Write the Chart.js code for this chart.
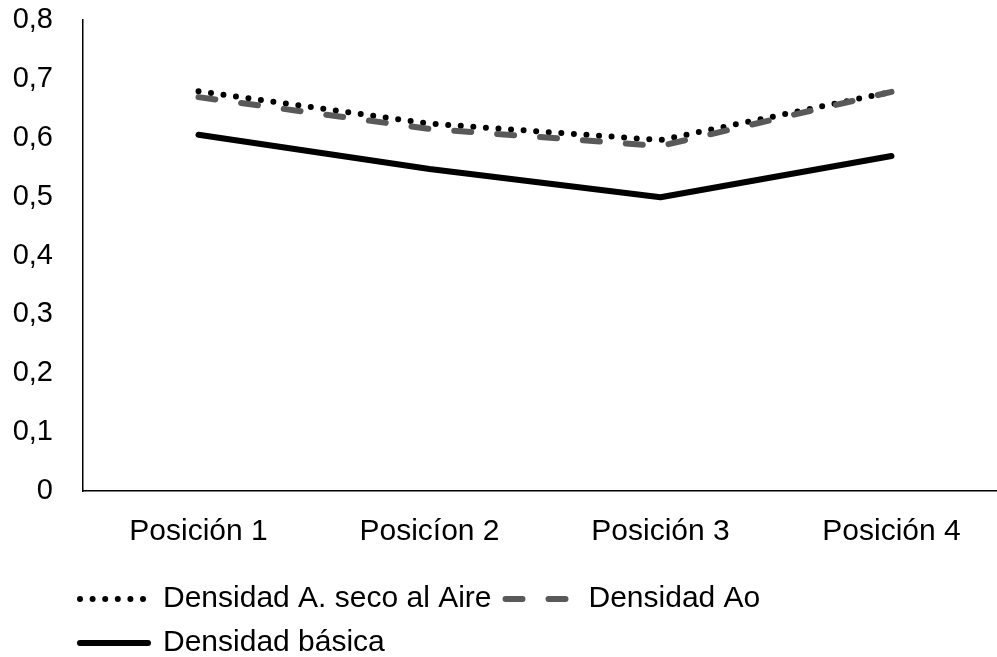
<!DOCTYPE html>
<html>
<head>
<meta charset="utf-8">
<script src="https://cdn.jsdelivr.net/npm/chart.js@4/dist/chart.umd.min.js"></script>
<style>
  html, body { margin: 0; padding: 0; background: #fff; overflow: hidden; }
  #wrap { position: relative; width: 1010px; height: 657px; }
</style>
</head>
<body>
<div id="wrap"><canvas id="c"></canvas></div>
<script>
// Wood density by position along the stem
const categories = ['Posición 1', 'Posicíon 2', 'Posición 3', 'Posición 4'];
const densidadSecoAire = [0.679, 0.624, 0.596, 0.678];
const densidadAo = [0.669, 0.615, 0.586, 0.678];
const densidadBasica = [0.605, 0.547, 0.499, 0.569];
const yTicks = [0, 0.1, 0.2, 0.3, 0.4, 0.5, 0.6, 0.7, 0.8];

const FONT = "'Liberation Sans', Arial, sans-serif";
const fmt = v => (v === 0 ? '0' : v.toFixed(1).replace('.', ','));

// legend starts further right than the y-axis labels
const legendIndent = {
  id: 'legendIndent',
  afterLayout(chart) {
    if (chart.legend) chart.legend.left += 53;
  }
};

new Chart(document.getElementById('c'), {
  type: 'line',
  data: {
    labels: categories,
    datasets: [
      {
        label: 'Densidad A. seco al Aire',
        data: densidadSecoAire,
        borderColor: '#000000',
        backgroundColor: '#000000',
        borderWidth: 6,
        borderDash: [0, 12.6],
        borderCapStyle: 'round',
        borderJoinStyle: 'round',
        pointRadius: 0,
        tension: 0,
        order: 2
      },
      {
        label: 'Densidad Ao',
        data: densidadAo,
        borderColor: '#595959',
        backgroundColor: '#595959',
        borderWidth: 6,
        borderDash: [17, 26],
        borderCapStyle: 'round',
        borderJoinStyle: 'round',
        pointRadius: 0,
        tension: 0,
        order: 1
      },
      {
        label: 'Densidad básica',
        data: densidadBasica,
        borderColor: '#000000',
        backgroundColor: '#000000',
        borderWidth: 6,
        borderCapStyle: 'round',
        borderJoinStyle: 'round',
        pointRadius: 0,
        tension: 0,
        order: 0
      }
    ]
  },
  plugins: [legendIndent],
  options: {
    responsive: true,
    maintainAspectRatio: false,
    animation: false,
    layout: { padding: { left: 13, right: 3, top: 20, bottom: 0 } },
    plugins: {
      tooltip: { enabled: false },
      legend: {
        position: 'bottom',
        align: 'start',
        maxHeight: 87,
        labels: {
          usePointStyle: true,
          pointStyle: 'line',
          pointStyleWidth: 68,
          padding: 14,
          color: '#000',
          font: { family: FONT, size: 30 },
          sort: (a, b) => a.datasetIndex - b.datasetIndex,
          generateLabels(chart) {
            const items = Chart.defaults.plugins.legend.labels.generateLabels(chart);
            items.forEach(it => {
              const ds = chart.data.datasets[it.datasetIndex];
              it.lineDash = ds.borderDash || [];
              it.lineWidth = ds.borderWidth;
              it.lineCap = ds.borderCapStyle;
              it.strokeStyle = ds.borderColor;
              it.fillStyle = ds.borderColor;
            });
            return items;
          }
        }
      }
    },
    scales: {
      x: {
        offset: true,
        grid: { display: false, drawTicks: false },
        border: { display: true, color: '#000', width: 1.5 },
        ticks: { color: '#000', padding: 23, font: { family: FONT, size: 30 }, maxRotation: 0 },
        afterFit: s => { s.height = 79; }
      },
      y: {
        min: 0,
        max: 0.8,
        grid: { display: false, drawTicks: false },
        border: { display: true, color: '#000', width: 1.5 },
        afterBuildTicks: s => { s.ticks = yTicks.map(v => ({ value: v })); },
        ticks: {
          color: '#000',
          padding: 30,
          font: { family: FONT, size: 29 },
          callback: v => fmt(v)
        },
        afterFit: s => {
          s.width = 70;
          s.paddingTop = 0;
          s.paddingBottom = 0;
        }
      }
    }
  }
});
</script>
</body>
</html>
